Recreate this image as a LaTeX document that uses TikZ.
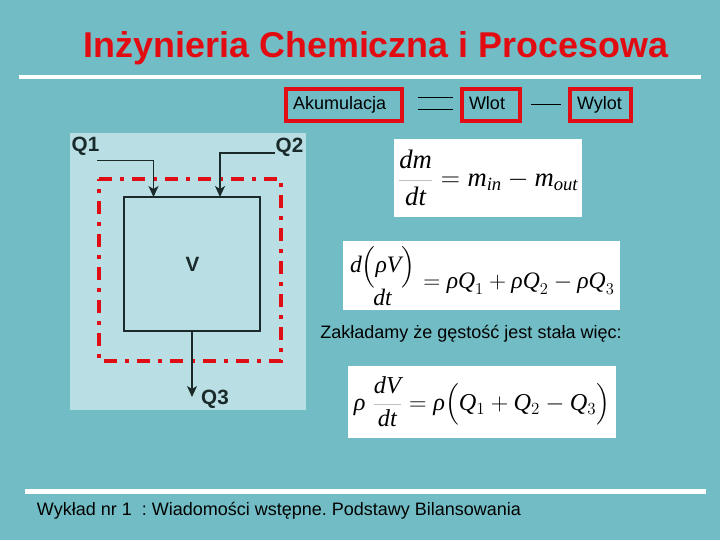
\documentclass[tikz,border=0pt]{standalone}
\usepackage{fix-cm}
\usepackage{amsmath}
\usepackage{fontspec}
\setmainfont{Liberation Sans}
\newfontfamily\eqfont{Liberation Serif}
\usetikzlibrary{arrows.meta}
\definecolor{slide}{HTML}{72BDC5}
\definecolor{panel}{HTML}{B9DFE4}
\definecolor{titlered}{HTML}{E30B12}
\definecolor{boxred}{HTML}{E00D14}
\definecolor{ink}{HTML}{1A2A2A}
\newcommand{\ev}[1]{\text{\eqfont\itshape #1}}
\newcommand{\evfrac}[2]{{\color{black!25}\genfrac{}{}{0.4pt}{0}{\color{black}#1}{\color{black}#2}}}
\newdimen\px
\px=0.75pt
\frenchspacing
\begin{document}
\begin{tikzpicture}[
    x=0.75pt, y=-0.75pt,
    rule/.style={draw=white, line width=4\px},
    bodytext/.style={font=\fontsize{13.5}{16}\selectfont, inner sep=0pt},
    term/.style={draw=boxred, line width=3.5\px, font=\fontsize{13.5}{16}\selectfont, minimum height=32\px, inner xsep=7\px, inner ysep=0pt, align=left, text=black},
    eqbox/.style={fill=white, inner sep=0pt},
    qlabel/.style={font=\fontsize{15.5}{18}\selectfont\bfseries, text=ink, inner sep=0pt},
    flow/.style={draw=ink, line width=1\px, -{Stealth[length=8.25pt,width=7.5pt,inset=2.25pt]}},
    limit/.style={draw=boxred, line width=4\px, dash pattern=on 13\px off 8\px on 4\px off 8\px}
]
\useasboundingbox[fill=slide] (0,0) rectangle (720,540);
% Title and rules
\node[font=\fontsize{26.9}{30}\selectfont\bfseries, text=titlered, inner sep=0pt] (title) at (376,48) {Inżynieria Chemiczna i Procesowa};
\coordinate (ruletopl) at (19,77);
\coordinate (ruletopr) at (701,77);
\draw[rule] (ruletopl) -- (ruletopr);
\coordinate (rulebotl) at (25,491.5);
\coordinate (rulebotr) at (706,491.5);
\draw[rule, line width=5\px] (rulebotl) -- (rulebotr);
\node[bodytext] (footer) at (279,511) {Wykład nr 1\ \ : Wiadomości wstępne. Podstawy Bilansowania};

% Balance in words
\node[term, text width=102\px, text height=9.5pt, text depth=3pt] (akum) at (344,105) {Akumulacja};
\node[term, text width=44\px, text height=9.5pt, text depth=3pt] (wlot) at (491,105) {Wlot};
\node[term, text width=47\px, text height=9.5pt, text depth=3pt] (wylot) at (600.5,105) {Wylot};
\coordinate (eqa) at (418,97);
\coordinate (eqb) at (453,97);
\coordinate (eqc) at (418,109);
\coordinate (eqd) at (453,109);
\coordinate (mina) at (531,104);
\coordinate (minb) at (561,104);
\draw[line width=1\px] (eqa) -- (eqb);
\draw[line width=1\px] (eqc) -- (eqd);
\draw[line width=1\px] (mina) -- (minb);

% Control volume
\node[fill=panel, minimum width=236\px, minimum height=277\px, inner sep=0pt] (panelbox) at (188,271.5) {};
\node[draw=ink, line width=1.3\px, minimum width=136\px, minimum height=134\px, inner sep=0pt] (tank) at (192,264) {};
\node[qlabel] (v) at (192.5,264.5) {V};
\coordinate (lima) at (99,179);
\coordinate (limb) at (281,179);
\coordinate (limc) at (281,361);
\coordinate (limd) at (99,361);
\draw[limit] (lima) -- (limb) -- (limc) -- (limd) -- cycle;
\node[qlabel] (q1) at (85.5,146.5) {Q1};
\node[qlabel] (q2) at (289.5,147.5) {Q2};
\node[qlabel] (q3) at (215,399) {Q3};
\coordinate (in1) at (153.5,197);
\coordinate (in2) at (220,197);
\coordinate (q1start) at (97,160);
\coordinate (q2start) at (275,153);
\coordinate (out) at (192,397);
\draw[flow] (q1start) -| (in1);
\draw[flow, line width=1.6\px] (q2start) -| (in2);
\draw[flow, line width=1.3\px] (tank.south) -- (out);

% Equations
\node[eqbox, minimum width=188\px, minimum height=78\px, font=\fontsize{20}{24}\selectfont] (eq1) at (488,178) {$\evfrac{\ev{dm}}{\ev{dt}}=\ev{m}_{\ev{in}}-\ev{m}_{\ev{out}}$};
\node[eqbox, minimum width=277\px, minimum height=69\px, font=\fontsize{17.7}{21}\selectfont] (eq2) at (481.5,275.5) {$\genfrac{}{}{0pt}{0}{\smash[b]{\ev{d}\Bigl(\ev{ρV}\Bigr)}}{\ev{dt}}=\ev{ρQ}_{1}+\ev{ρQ}_{2}-\ev{ρQ}_{3}$};
\node[bodytext] (note) at (471,334) {Zakładamy że gęstość jest stała więc:};
\node[eqbox, minimum width=268\px, minimum height=72\px, font=\fontsize{18.2}{22}\selectfont] (eq3) at (482,402) {$\ev{ρ}\;\evfrac{\ev{dV}}{\ev{dt}}=\ev{ρ}\Bigl(\ev{Q}_{1}+\ev{Q}_{2}-\ev{Q}_{3}\Bigr)$};
\end{tikzpicture}
\end{document}
